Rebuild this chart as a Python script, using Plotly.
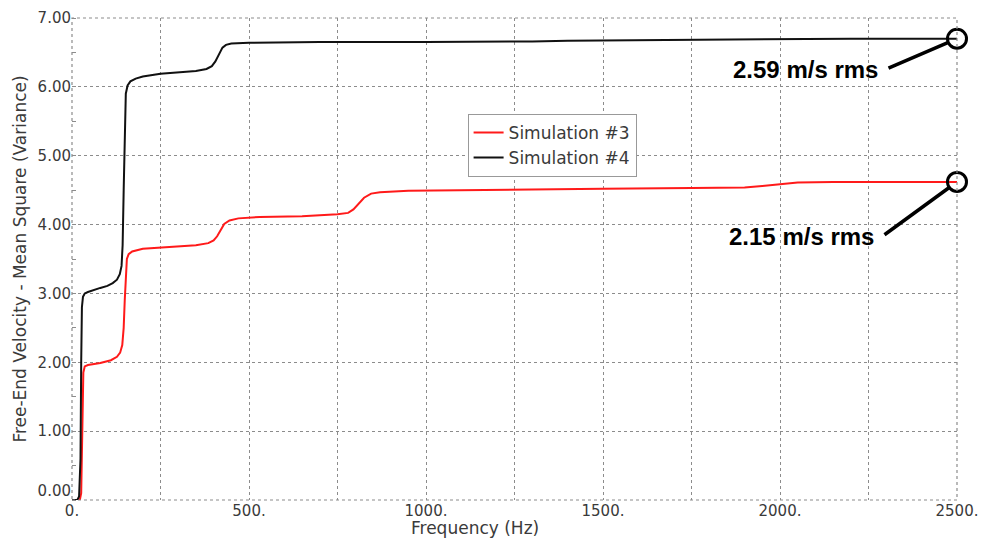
import plotly.graph_objects as go

# ---- data ----
freq_sim3 = [0, 22, 26, 28, 30, 32, 36, 45, 80, 110, 127, 136, 142, 146, 149, 152, 155, 160, 170, 200,
             250, 300, 350, 385, 400, 410, 420, 430, 445, 470, 530, 650, 750, 780, 795, 810, 825, 845,
             870, 950, 1100, 1300, 1500, 1750, 1900, 1950, 2000, 2050, 2150, 2500]
ms_sim3 = [0, 0, 0.1, 0.8, 1.6, 1.85, 1.94, 1.96, 1.99, 2.03, 2.08, 2.14, 2.25, 2.5, 2.9, 3.3, 3.5, 3.57, 3.61, 3.65,
           3.67, 3.68, 3.70, 3.73, 3.77, 3.83, 3.93, 4.01, 4.06, 4.09, 4.11, 4.12, 4.15, 4.17, 4.22, 4.31, 4.39, 4.45,
           4.47, 4.49, 4.50, 4.51, 4.52, 4.53, 4.54, 4.56, 4.59, 4.61, 4.62, 4.62]

freq_sim4 = [0, 15, 20, 24, 26, 28, 31, 36, 45, 60, 80, 100, 115, 127, 135, 140, 143, 146, 149, 152, 157, 165,
             180, 200, 250, 300, 350, 380, 395, 405, 415, 425, 435, 450, 500, 700, 1000, 1200, 1300, 1400,
             1700, 1900, 2000, 2200, 2500]
ms_sim4 = [0, 0, 0.05, 0.6, 2.0, 2.8, 2.95, 3.0, 3.02, 3.05, 3.08, 3.11, 3.15, 3.2, 3.28, 3.4, 3.7, 4.5, 5.5, 5.9, 6.02, 6.08,
           6.12, 6.15, 6.19, 6.21, 6.23, 6.26, 6.3, 6.37, 6.48, 6.57, 6.61, 6.63, 6.64, 6.65, 6.65, 6.65, 6.66, 6.67,
           6.68, 6.69, 6.70, 6.70, 6.70]

series_names = ["Simulation #3", "Simulation #4"]
rms_labels = ["2.15 m/s rms", "2.59 m/s rms"]
x_title = "Frequency (Hz)"
y_title = "Free-End Velocity - Mean Square (Variance)"

x_tick_vals = [0, 500, 1000, 1500, 2000, 2500]
x_tick_text = ["0.", "500.", "1000.", "1500.", "2000.", "2500."]
y_tick_vals = [0, 1, 2, 3, 4, 5, 6, 7]
y_tick_text = ["0.00", "1.00", "2.00", "3.00", "4.00", "5.00", "6.00", "7.00"]

GRID = "#8c8c8c"
TXT = "#3a3a3a"

# the lowest y label sits just above the axis line in the reference
y_tick_disp = [y_tick_text[0] + "<br> "] + y_tick_text[1:]

fig = go.Figure()
fig.add_trace(go.Scatter(x=freq_sim3, y=ms_sim3, mode="lines", name=series_names[0],
                         line=dict(color="#ff1a1a", width=2)))
fig.add_trace(go.Scatter(x=freq_sim4, y=ms_sim4, mode="lines", name=series_names[1],
                         line=dict(color="#111111", width=2)))

# end-point circles
fig.add_trace(go.Scatter(x=[freq_sim3[-1], freq_sim4[-1]], y=[ms_sim3[-1], ms_sim4[-1]],
                         mode="markers", showlegend=False, cliponaxis=False, hoverinfo="skip",
                         marker=dict(symbol="circle-open", size=19, color="black",
                                     line=dict(width=3, color="black"))))

# pointer lines + labels
specs = [  # (x, y, ax, ay, xshift, yshift, text)
    (freq_sim4[-1], ms_sim4[-1], -70, 30, -77, -31, rms_labels[1]),
    (freq_sim3[-1], ms_sim3[-1], -74, 54, -81, -55, rms_labels[0]),
]
for x, y, ax, ay, xs, ys, t in specs:
    fig.add_annotation(x=x, y=y, ax=ax, ay=ay, text="", showarrow=True, arrowhead=0,
                       arrowwidth=3.5, arrowcolor="black", standoff=10)
    fig.add_annotation(x=x, y=y, text="<b>" + t + "</b>", showarrow=False,
                       xanchor="right", yanchor="middle", xshift=xs, yshift=ys,
                       font=dict(family="Liberation Sans, Arial", size=24, color="black"))

# x-axis title (sits left of centre in the reference)
fig.add_annotation(xref="paper", yref="paper", x=0.455, y=0, yshift=-28, text=x_title,
                   showarrow=False, xanchor="center", yanchor="middle",
                   font=dict(size=17, color=TXT))

# dotted frame
fig.add_shape(type="rect", xref="paper", yref="paper", x0=0, y0=0, x1=1, y1=1,
              line=dict(color=GRID, width=1.2, dash="dot"), layer="above")

fig.update_layout(
    width=982, height=539,
    margin=dict(l=72, r=25, t=18, b=39, autoexpand=False),
    paper_bgcolor="white", plot_bgcolor="white",
    font=dict(family="DejaVu Sans, Verdana", color=TXT),
    showlegend=True,
    legend=dict(x=0.447, y=0.801, xanchor="left", yanchor="top",
                bgcolor="white", bordercolor="#999999", borderwidth=1,
                font=dict(size=17, color=TXT), tracegroupgap=0),
)
fig.update_xaxes(range=[0, 2500], tickvals=x_tick_vals, ticktext=x_tick_text,
                 tickfont=dict(size=15, color=TXT), ticks="", automargin=False,
                 showgrid=True, gridcolor=GRID, griddash="dot", gridwidth=1,
                 zeroline=False, showline=False,
                 minor=dict(dtick=250, showgrid=True, gridcolor=GRID, griddash="dot", gridwidth=1))
fig.update_yaxes(range=[0, 7], tickvals=y_tick_vals, ticktext=y_tick_disp,
                 tickfont=dict(size=15, color=TXT), ticks="", automargin=False,
                 showgrid=True, gridcolor=GRID, griddash="dot", gridwidth=1,
                 zeroline=False, showline=False,
                 minor=dict(dtick=0.5, ticks="inside", ticklen=4, tickcolor=GRID, showgrid=False),
                 title=dict(text=y_title, font=dict(size=17, color=TXT), standoff=6))

fig.write_html("out.html")
